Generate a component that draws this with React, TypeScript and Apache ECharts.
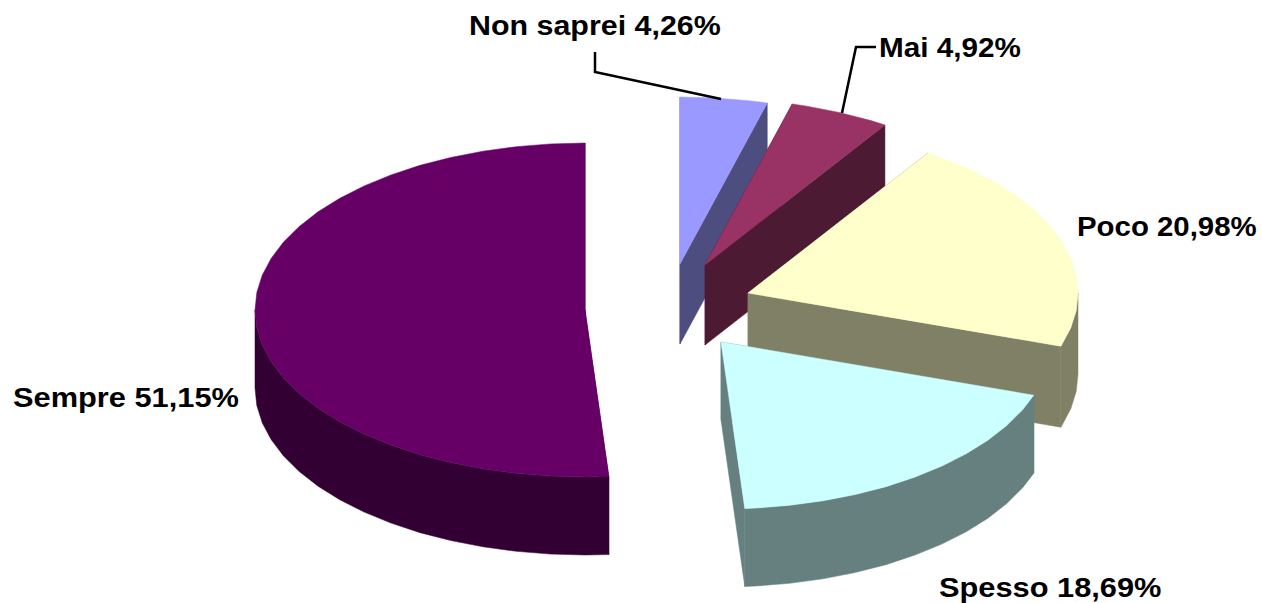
import React, { useEffect, useRef } from "react";
import * as echarts from "echarts";

const categories = ["Non saprei", "Mai", "Poco", "Spesso", "Sempre"];
const values = [4.26, 4.92, 20.98, 18.69, 51.15];
const valueLabels = ["4,26%", "4,92%", "20,98%", "18,69%", "51,15%"];

const topColors = ["#9999ff", "#993366", "#ffffcc", "#ccffff", "#660066"];
const wallColors = ["#4d4d80", "#4d1a33", "#808066", "#668080", "#330033"];
const centers = [[680, 264], [705, 265], [748, 293], [721, 342], [585, 310]];
const depths = [80, 80, 81, 78, 78];
const labelPos = [[469, 25], [879, 47], [1077, 226], [939, 587], [13, 397]];
const labelStretch = [1.086, 1.06, 1.05, 1.1, 1.1];
const leaders: number[][][] = [
  [[595, 52], [595, 72], [721, 99]],
  [[876, 47], [856, 47], [842, 113]],
  [], [], [],
];
const RX = 330;
const RY = 167;
const FACET = 6;
const FONT = 'bold 28px "Liberation Sans", Arial, sans-serif';

const total = values.reduce((a, b) => a + b, 0);

function rim(cx: number, cy: number, a0: number, a1: number, dy = 0) {
  const pts: number[][] = [];
  const first = Math.ceil(a0 / FACET) * FACET;
  const at = (a: number) => {
    const r = (a * Math.PI) / 180;
    return [cx + RX * Math.sin(r), cy - RY * Math.cos(r) + dy];
  };
  pts.push(at(a0));
  for (let a = first; a < a1; a += FACET) if (a > a0) pts.push(at(a));
  pts.push(at(a1));
  return pts;
}

const renderItem = (params: any, api: any) => {
  const i = params.dataIndex;
  const val = api.value(0);
  let before = 0;
  for (let k = 0; k < i; k++) before += values[k];
  const a0 = (before / total) * 360;
  const a1 = a0 + (val / total) * 360;
  const [cx, cy] = centers[i];
  const depth = depths[i];
  const children: any[] = [];
  const wall = { fill: wallColors[i], stroke: wallColors[i], lineWidth: 0.5 };
  const edge = (a: number) => {
    const p = rim(cx, cy, a, a)[0];
    return [[cx, cy], p, [p[0], p[1] + depth], [cx, cy + depth]];
  };
  children.push({ type: "polygon", shape: { points: edge(a0) }, style: wall, silent: true });
  children.push({ type: "polygon", shape: { points: edge(a1) }, style: wall, silent: true });
  const w0 = Math.max(a0, 90);
  const w1 = Math.min(a1, 270);
  if (w1 > w0) {
    const t = rim(cx, cy, w0, w1);
    const b = rim(cx, cy, w0, w1, depth).reverse();
    children.push({ type: "polygon", shape: { points: t.concat(b) }, style: wall, silent: true });
  }
  children.push({
    type: "polygon",
    shape: { points: [[cx, cy], ...rim(cx, cy, a0, a1)] },
    style: { fill: topColors[i], stroke: topColors[i], lineWidth: 0.5 },
    silent: true,
  });
  if (leaders[i].length) {
    children.push({
      type: "polyline",
      shape: { points: leaders[i] },
      style: { stroke: "#000", lineWidth: 2.5, fill: "none" },
      silent: true,
    });
  }
  children.push({
    type: "text",
    x: labelPos[i][0],
    y: labelPos[i][1],
    scaleX: labelStretch[i],
    style: {
      text: `${categories[i]} ${valueLabels[i]}`,
      font: FONT,
      fill: "#000",
      align: "left",
      verticalAlign: "middle",
    },
    silent: true,
  });
  return { type: "group", children };
};

export default function App() {
  const ref = useRef<HTMLDivElement>(null);
  useEffect(() => {
    const chart = echarts.init(ref.current!, null, { renderer: "svg" });
    chart.setOption({
      animation: false,
      backgroundColor: "#ffffff",
      series: [
        {
          type: "custom",
          coordinateSystem: "none",
          renderItem,
          data: values.map((v, i) => ({ name: categories[i], value: [v] })),
          silent: true,
          clip: false,
        },
      ],
    });
    return () => chart.dispose();
  }, []);
  return <div ref={ref} style={{ position: "fixed", left: 0, top: 0, width: 1262, height: 603 }} />;
}
